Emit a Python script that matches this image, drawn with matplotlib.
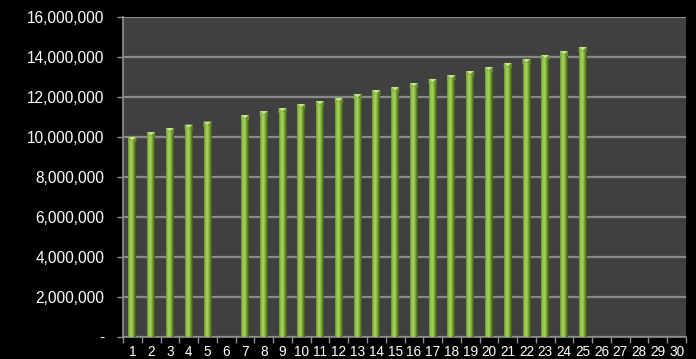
import matplotlib.pyplot as plt
import numpy as np
from matplotlib.colors import LinearSegmentedColormap
from matplotlib.ticker import FuncFormatter, FixedLocator

plt.rcParams['font.family'] = ['Liberation Sans', 'DejaVu Sans']

# periods 1..30, period 6 and 26-30 have no value
periods = list(range(1, 31))
values = [10000000, 10250000, 10450000, 10620000, 10770000, None,
          11100000, 11300000, 11450000, 11650000, 11800000, 11950000,
          12150000, 12350000, 12500000, 12700000, 12900000, 13100000,
          13300000, 13500000, 13700000, 13900000, 14100000, 14300000,
          14500000, None, None, None, None, None]
yticks = [0, 2000000, 4000000, 6000000, 8000000, 10000000, 12000000,
          14000000, 16000000]

fig = plt.figure(figsize=(6.96, 3.59), dpi=100, facecolor='black')
ax = fig.add_axes([123 / 696, 1 - 337 / 359, (686 - 123) / 696, 320 / 359])
ax.set_facecolor('#404040')

xs = [p for p, v in zip(periods, values) if v is not None]
ys = [v for v in values if v is not None]
bw = 0.42
bars = ax.bar(xs, ys, width=bw, color='#7fa83a', zorder=3, linewidth=0)

# cylinder-like shading across each bar
shade = LinearSegmentedColormap.from_list(
    'shade', ['#66902a', '#94c24a', '#a8d35a', '#90bc46', '#628726', '#3d5414'])
grad = np.linspace(0, 1, 64).reshape(1, -1)
for b in bars:
    x0, w, h = b.get_x(), b.get_width(), b.get_height()
    im = ax.imshow(grad, cmap=shade, aspect='auto', zorder=4,
                   extent=(x0, x0 + w, 0, h), interpolation='bilinear')
    im.set_clip_path(b)
    # light cap on the top
    ax.fill([x0, x0 + w, x0 + w * 0.5], [h, h, h - 180000],
            color='#c4e68a', zorder=5, linewidth=0)
    ax.fill([x0, x0 + w * 0.5, x0, ], [h, h - 180000, h - 260000],
            color='#8ab44a', zorder=5, linewidth=0)
    ax.fill([x0 + w, x0 + w * 0.5, x0 + w], [h, h - 180000, h - 260000],
            color='#6a9030', zorder=5, linewidth=0)

ax.set_xlim(0.5, 30.5)
ax.set_ylim(0, 16000000)
ax.set_yticks(yticks)
ax.yaxis.set_major_formatter(FuncFormatter(
    lambda v, p: '-' if v == 0 else '{:,.0f}'.format(v)))
ax.set_xticks(periods)
ax.set_xticklabels([str(p) for p in periods])
ax.xaxis.set_minor_locator(FixedLocator(np.arange(0.5, 31, 1)))
ax.tick_params(axis='x', which='major', length=0, pad=6, colors='white',
               labelsize=9.8)
ax.tick_params(axis='x', which='minor', length=4, width=1, color='#909090')
ax.tick_params(axis='y', length=4.5, width=1, color='#909090', colors='white',
               labelsize=11.2, pad=9)
for lab in ax.get_yticklabels():
    lab.set_color('white')

ax.grid(axis='y', color='#8a8a8a', linewidth=1.6, zorder=1)
ax.set_axisbelow(True)
for s in ('top', 'right'):
    ax.spines[s].set_visible(False)
ax.spines['left'].set_color('#909090')
ax.spines['bottom'].set_color('#909090')
ax.spines['left'].set_linewidth(1.2)
ax.spines['bottom'].set_linewidth(1.2)

fig.savefig('out.png', dpi=100, facecolor='black')
